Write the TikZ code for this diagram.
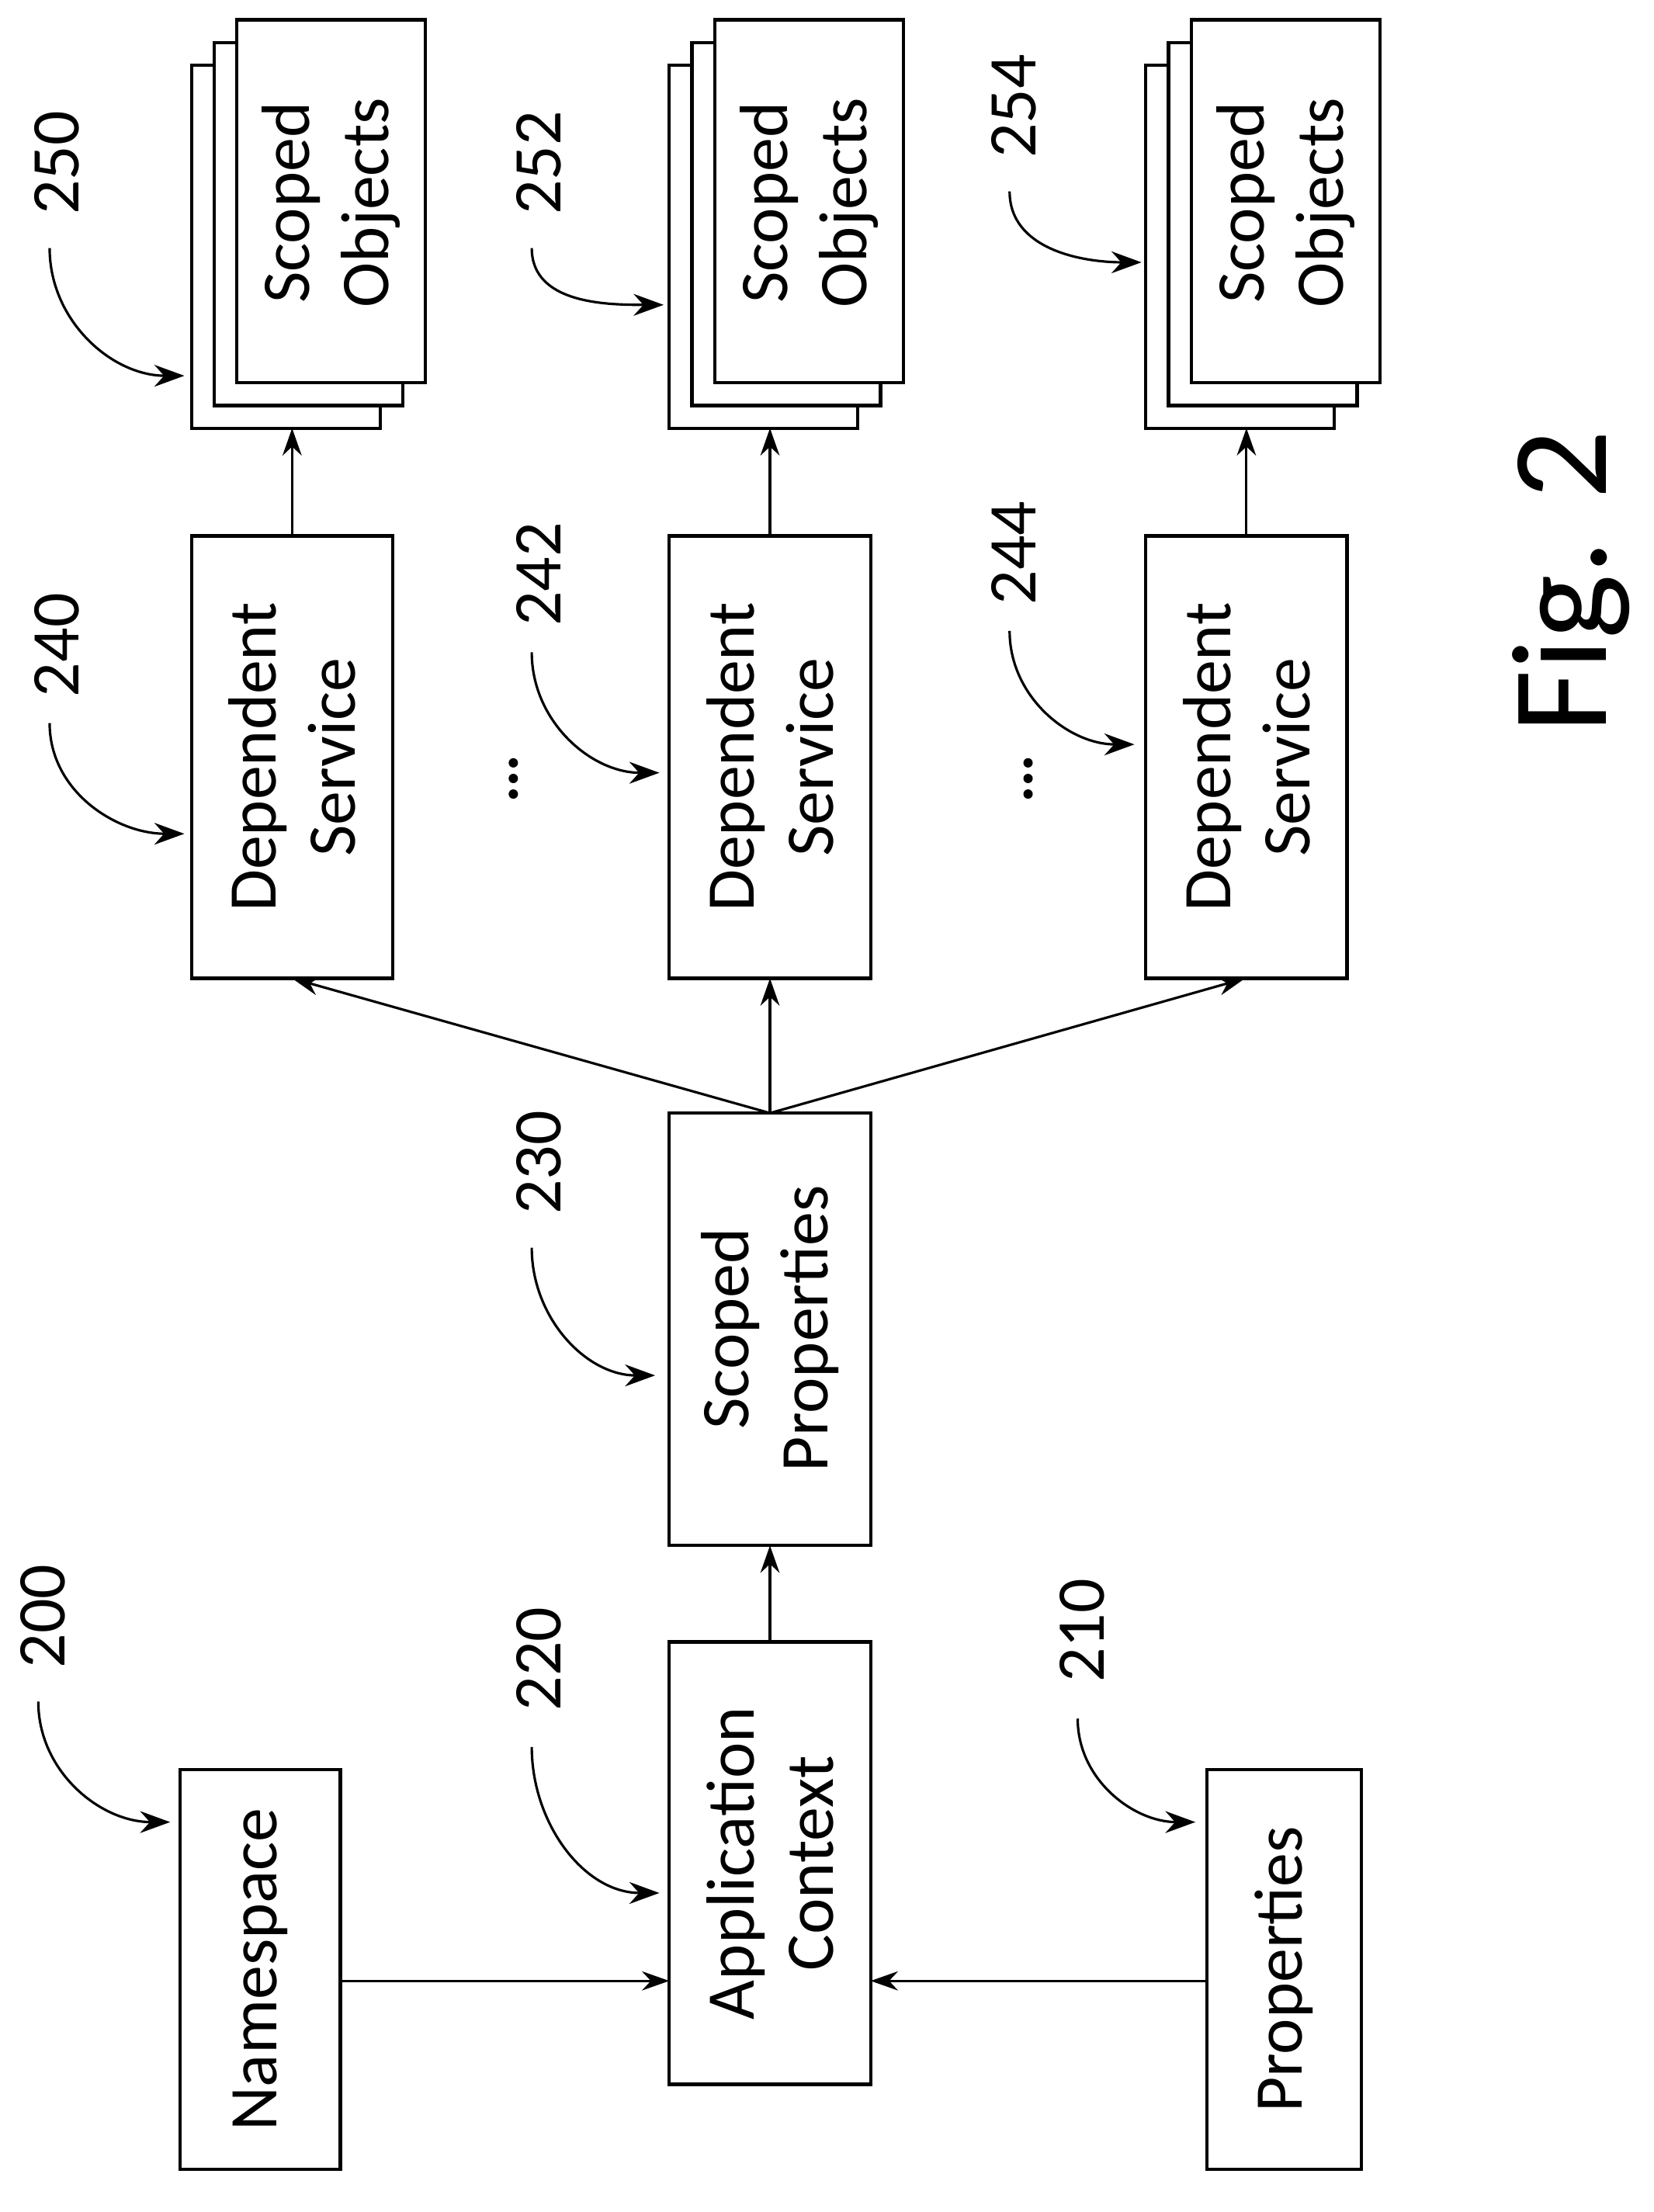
\documentclass[tikz,border=0pt]{standalone}
\usepackage{fontspec}
\setmainfont{Carlito}
\usetikzlibrary{arrows.meta}
\begin{document}
\begin{tikzpicture}[x=0.1826mm,y=-0.1826mm,
  box/.style={draw,line width=1.2pt,fill=white},
  lbl/.style={rotate=90,font=\fontsize{25}{29}\selectfont,align=center},
  num/.style={rotate=90,font=\fontsize{25}{29}\selectfont},
  arr/.style={line width=0.9pt,-{Stealth[length=10pt,width=7pt]}},
  carr/.style={line width=0.9pt,-{Stealth[length=11pt,width=8pt]}}]
\useasboundingbox (0,0) rectangle (1166,1560);
% boxes
\draw[box] (127,1248) rectangle (240,1530); \node[lbl] (ns) at (183.5,1389) {Namespace};
\draw[box] (472,1158) rectangle (614,1470); \node[lbl] (ac) at (543,1314) {Application\\Context};
\draw[box] (851,1248) rectangle (960,1530); \node[lbl] (pr) at (905.5,1389) {Properties};
\draw[box] (472,785) rectangle (614,1090); \node[lbl] (sp) at (543,937) {Scoped\\Properties};
\foreach \x/\n in {135/1,472/2,808/3}{
  \draw[box] (\x,378) rectangle ({\x+142},690);
  \node[lbl] (ds\n) at ({\x+71},534) {Dependent\\Service};
  \foreach \k in {0,1,2}{
    \draw[box] ({\x+16*\k},{46-16*\k}) rectangle ({\x+133+16*\k},{302-16*\k});}
  \node[lbl] (so\n) at ({\x+32+66.5},143) {Scoped\\Objects};
  \draw[arr] ({\x+71},378) -- ({\x+71},302);
}
% arrows
\draw[arr] (240,1397) -- (472,1397);
\draw[arr] (851,1397) -- (614,1397);
\draw[arr] (543,1158) -- (543,1090);
\coordinate (spT) at (543,785);
\draw[arr] (spT) -- (206,690);
\draw[arr] (spT) -- (543,690);
\draw[arr] (spT) -- (878,690);
% dots
\foreach \x in {362,725}{\foreach \y in {538,549,560}{\fill (\x,\y) circle (3.3);}}
% reference numbers
\foreach \tx/\ty/\t/\sx/\sy/\ex/\ey in {
  40/115/250/35/175/130/265,
  380/115/252/375/175/468/215,
  715/75/254/712/135/805/185,
  40/455/240/35/510/130/588,
  380/405/242/375/460/465/545,
  715/390/244/712/445/800/525,
  380/820/230/375/880/462/970,
  380/1170/220/375/1232/465/1335,
  763/1150/210/760/1212/843/1285,
  30/1140/200/27/1200/120/1285}{
  \node[num] (n\t) at (\tx,\ty) {\t};
  \draw[carr] (\sx,\sy) to[out=-90,in=180] (\ex,\ey);
}
\node[rotate=90,font=\fontsize{50}{58}\selectfont] (fig) at (1108,410) {Fig. 2};
\end{tikzpicture}
\end{document}
